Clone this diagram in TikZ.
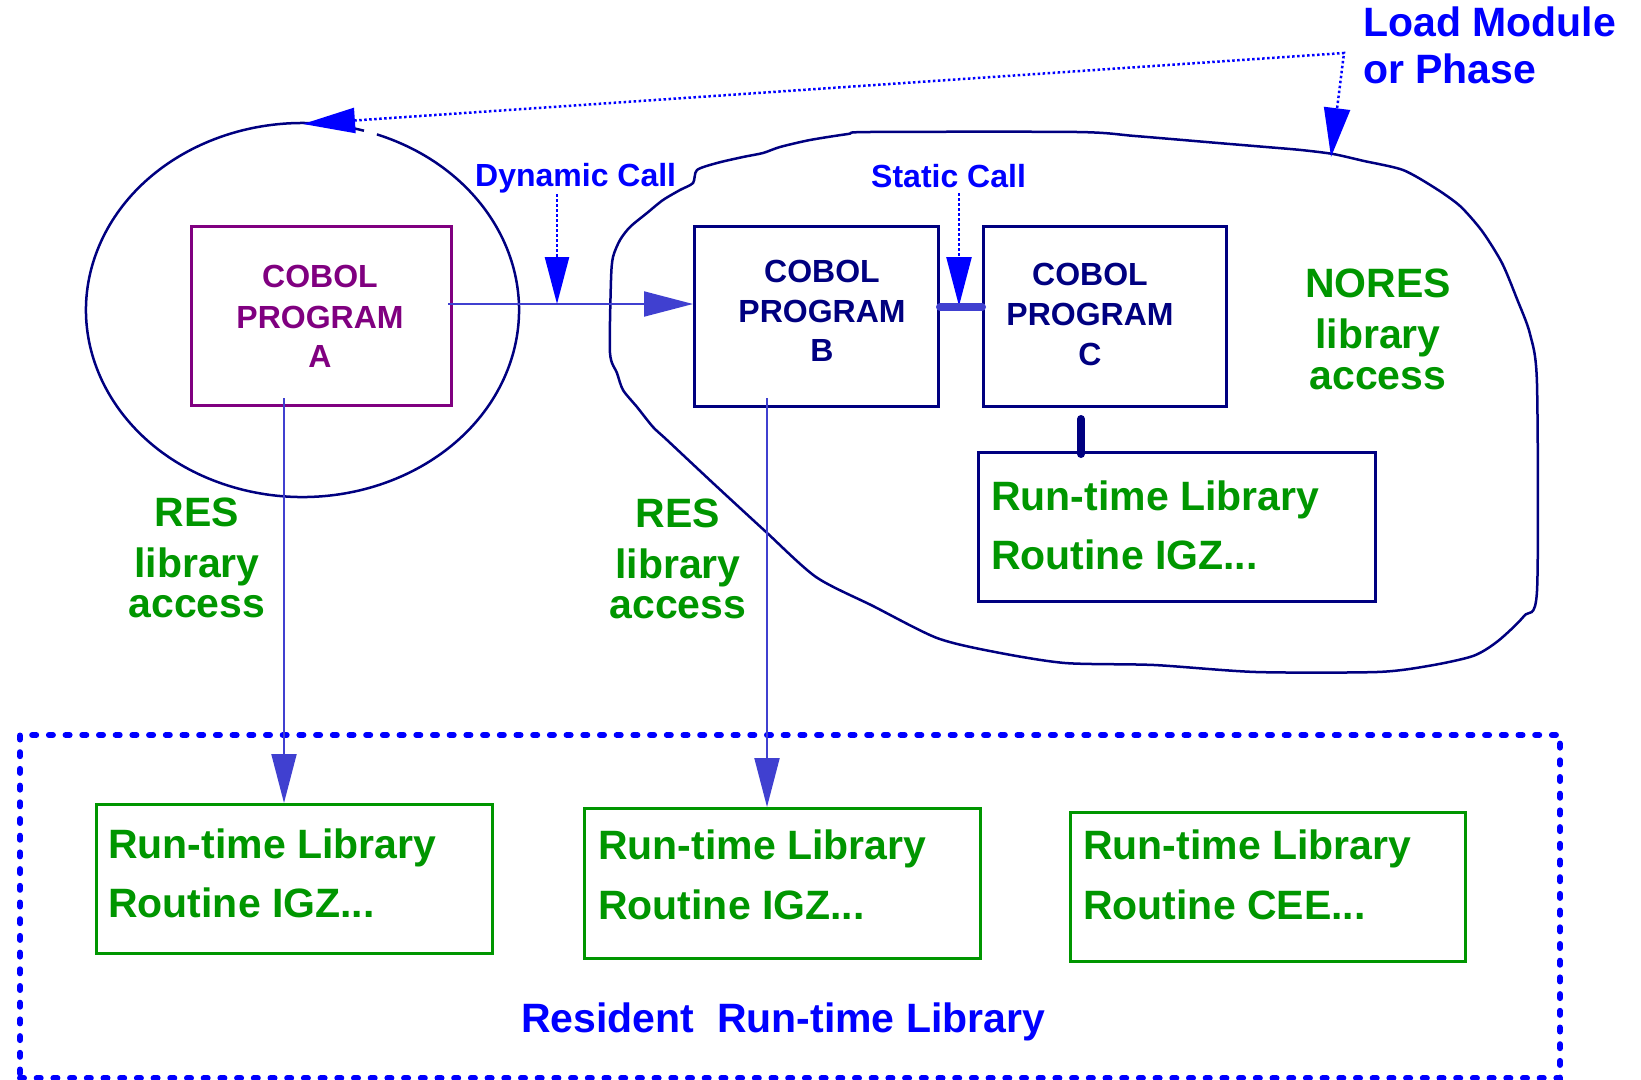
\documentclass[tikz,border=0pt]{standalone}
\usepackage{fontspec}
\setmainfont{Liberation Sans}
\usetikzlibrary{arrows.meta}
\definecolor{cblue}{RGB}{0,0,255}
\definecolor{cind}{RGB}{64,64,208}
\definecolor{cnavy}{RGB}{0,0,128}
\definecolor{cpurp}{RGB}{128,0,128}
\definecolor{cgreen}{RGB}{0,150,0}
\newcommand\myfs[1]{\fontsize{#1}{#1}\selectfont\bfseries}
\begin{document}
\begin{tikzpicture}[x=1pt,y=-1pt,
  txt/.style={inner sep=0pt,anchor=base},
  txtl/.style={inner sep=0pt,anchor=base west},
  big/.style={font=\myfs{41}},
  small/.style={font=\myfs{32}},
  progbox/.style={draw=cnavy,line width=3pt,inner sep=0pt,anchor=north west},
  rtbox/.style={draw=cgreen,line width=3pt,inner sep=0pt,anchor=north west},
  conn/.style={draw=cind,line width=2pt,-{Triangle[length=49pt,width=25pt]}},
  dotarr/.style={draw=cblue,line width=2.5pt,dash pattern=on 2.5pt off 2.5pt}
]
\useasboundingbox (0,0) rectangle (1641,1079);
\fill[white] (0,0) rectangle (1641,1079);

% load module outline
\draw[cnavy,line width=2.5pt] plot[smooth cycle,tension=0.45] coordinates {
(870,132) (1077,132) (1135,136) (1218,143) (1266,147) (1301,150) (1333,154)
(1364,161) (1403,170) (1435,188) (1460,206) (1482,231) (1502,263) (1517,299)
(1530,334) (1537,384) (1537,591) (1524,616) (1498,641) (1473,656) (1428,666)
(1377,672) (1256,672) (1154,665) (1065,663) (995,652) (937,638) (873,606)
(816,577) (765,531) (714,484) (667,440) (653,427) (637,407) (623,390)
(617,373) (610,353) (611,280) (613,257) (620,240) (630,227) (647,213)
(663,200) (680,190) (693,183) (697,170) (717,163) (743,157) (763,153)
(780,147) (810,140) (848,134)};

% ellipse around program A
\draw[cnavy,line width=2.5pt] ([shift={(-69.9:216.5 and 187)}]302.5,310)
  arc[start angle=-69.9,end angle=286.5,x radius=216.5,y radius=187];

% boxes
\node[draw=cpurp,line width=2.5pt,inner sep=0pt,anchor=north west,
  minimum width=260pt,minimum height=179pt] (A) at (190,225) {};
\node[progbox,minimum width=244pt,minimum height=180pt] (B) at (693,225) {};
\node[progbox,minimum width=243pt,minimum height=180pt] (C) at (982,225) {};
\node[progbox,minimum width=397pt,minimum height=149pt] (RT) at (977,451) {};
\node[rtbox,minimum width=396pt,minimum height=149pt] (G1) at (95,803) {};
\node[rtbox,minimum width=396pt,minimum height=150pt] (G2) at (583,807) {};
\node[rtbox,minimum width=395pt,minimum height=149pt] (G3) at (1069,811) {};
\node[draw=cblue,line width=6pt,line cap=round,dash pattern=on 4pt off 12.7pt,
  inner sep=0pt,anchor=north west,minimum width=1540pt,minimum height=343pt]
  (RES) at (17,732) {};

% texts in program boxes
\node[txt,small,cpurp] (A1) at (320,287) {COBOL};
\node[txt,small,cpurp] (A2) at (320,328) {PROGRAM};
\node[txt,small,cpurp] (A3) at (320,367) {A};
\node[txt,small,cnavy] (B1) at (822,282) {COBOL};
\node[txt,small,cnavy] (B2) at (822,322) {PROGRAM};
\node[txt,small,cnavy] (B3) at (822,361) {B};
\node[txt,small,cnavy] (C1) at (1090,285) {COBOL};
\node[txt,small,cnavy] (C2) at (1090,325) {PROGRAM};
\node[txt,small,cnavy] (C3) at (1090,365) {C};

% run-time library texts
\node[txtl,big,cgreen] (RT1) at (991,510) {Run-time Library};
\node[txtl,big,cgreen] (RT2) at (991,569) {Routine IGZ...};
\node[txtl,big,cgreen] (G11) at (108,858) {Run-time Library};
\node[txtl,big,cgreen] (G12) at (108,917) {Routine IGZ...};
\node[txtl,big,cgreen] (G21) at (598,859) {Run-time Library};
\node[txtl,big,cgreen] (G22) at (598,919) {Routine IGZ...};
\node[txtl,big,cgreen] (G31) at (1083,859) {Run-time Library};
\node[txtl,big,cgreen] (G32) at (1083,919) {Routine CEE...};

% access labels
\node[txt,big,cgreen] (N1) at (1378,297) {NORES};
\node[txt,big,cgreen] (N2) at (1378,348) {library};
\node[txt,big,cgreen] (N3) at (1378,389) {access};
\node[txt,big,cgreen] (R1) at (197,526) {RES};
\node[txt,big,cgreen] (R2) at (197,577) {library};
\node[txt,big,cgreen] (R3) at (197,617) {access};
\node[txt,big,cgreen] (M1) at (678,527) {RES};
\node[txt,big,cgreen] (M2) at (678,578) {library};
\node[txt,big,cgreen] (M3) at (678,618) {access};

% blue labels
\node[txtl,big,cblue] (LM1) at (1363,36) {Load Module};
\node[txtl,big,cblue] (LM2) at (1363,83) {or Phase};
\node[txtl,small,cblue] (DYN) at (475,186) {Dynamic Call};
\node[txtl,small,cblue] (STA) at (871,187) {Static Call};
\node[txtl,big,cblue] (RESL) at (521,1032) {Resident\ \ Run-time Library};

% coordinates
\coordinate (ab) at (448,304);
\coordinate (dyntop) at (557,194);
\coordinate (dynend) at (557,304);
\coordinate (statop) at (959,193);
\coordinate (staend) at (959,306);
\coordinate (ellTop) at (303,124);
\coordinate (corner) at (1344,53);
\coordinate (lmTip) at (1331,157);
\coordinate (Aout) at (284,398);
\coordinate (Bout) at (767,398);
\coordinate (Cout) at (1081,419);

% connectors
\draw[conn] (ab) -- (B.west |- ab);
\draw[dotarr,-{Triangle[length=47pt,width=24pt]}] (dyntop) -- (dynend);
\draw[dotarr,-{Triangle[length=49pt,width=25pt]}] (statop) -- (staend);
\draw[cind,line width=8pt,line cap=round] (B.east |- 0,307) -- (C.west |- 0,307);
\draw[cnavy,line width=8pt,line cap=round] (Cout) -- ([yshift=-3pt]RT.north -| Cout);
\draw[conn] (Aout) -- (G1.north -| Aout);
\draw[conn] (Bout) -- (G2.north -| Bout);
\draw[dotarr,{Triangle[length=52pt,width=25pt]}-{Triangle[length=49pt,width=26pt]}]
  (ellTop) -- (corner) -- (lmTip);
\end{tikzpicture}
\end{document}
